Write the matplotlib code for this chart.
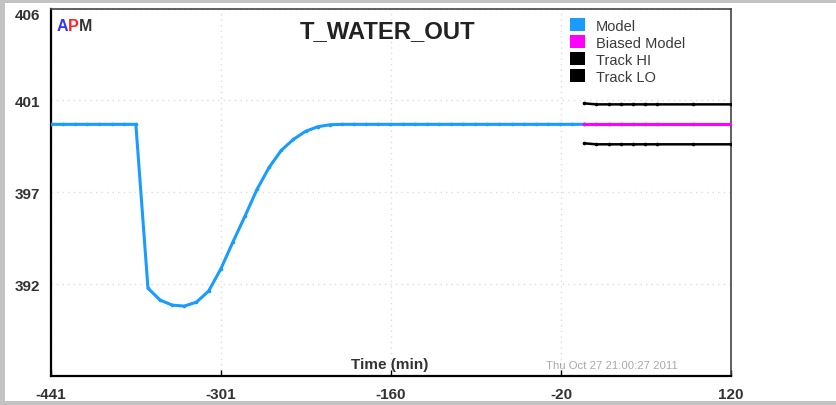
import matplotlib as mpl
mpl.use('Agg')
from matplotlib import pyplot as plt
from matplotlib.patches import Patch, Rectangle

plt.rcParams['font.family'] = ['Liberation Sans', 'DejaVu Sans']

# past horizon (min) and model response
t_hist = [-441, -431, -421, -411, -401, -391, -381, -371,
          -361, -351, -341, -331, -321, -311, -301, -291, -281,
          -271, -261, -251, -241, -231, -221, -211, -201,
          -191, -181, -171, -161, -151, -141, -131, -121, -111,
          -101, -91, -81, -71, -61, -51, -41, -31, -21, -11, -1]
model = [400.2, 400.2, 400.2, 400.2, 400.2, 400.2, 400.2, 400.2,
         392.0, 391.4, 391.15, 391.1, 391.3, 391.85, 392.95, 394.3, 395.6,
         396.95, 398.05, 398.9, 399.45, 399.85, 400.08, 400.18, 400.2,
         400.2, 400.2, 400.2, 400.2, 400.2, 400.2, 400.2, 400.2, 400.2,
         400.2, 400.2, 400.2, 400.2, 400.2, 400.2, 400.2, 400.2, 400.2, 400.2, 400.2]

# forecast horizon
t_pred = [-1, 9, 19, 29, 39, 49, 59, 89, 120]
biased = [400.2, 400.2, 400.2, 400.2, 400.2, 400.2, 400.2, 400.2, 400.2]
track_hi = [401.25, 401.2, 401.2, 401.2, 401.2, 401.2, 401.2, 401.2, 401.2]
track_lo = [399.25, 399.2, 399.2, 399.2, 399.2, 399.2, 399.2, 399.2, 399.2]

x_ticks = [-441, -300.75, -160.5, -20.25, 120]
x_tick_labels = ['-441', '-301', '-160', '-20', '120']
y_ticks = [406, 401.4, 396.8, 392.2, 387.6]
y_tick_labels = ['406', '401', '397', '392', '']

W, H = 837, 406
fig = plt.figure(figsize=(W / 100, H / 100), dpi=100)
fig.patch.set_facecolor('#c3c3c3')
fig.patches.append(Rectangle((5 / W, 4 / H), 1 - 5 / W, (402 - 4) / H,
                             transform=fig.transFigure, facecolor='white',
                             edgecolor='none', zorder=-10))

ax = fig.add_axes([51 / W, 29 / H, 680 / W, 367.5 / H])
ax.set_zorder(1)
ax.set_facecolor('white')

blue = '#1a9cff'
ax.plot(t_hist, model, color=blue, lw=2.2, marker='o', ms=1.6, zorder=3)
ax.plot(t_pred, track_hi, color='black', lw=1.8, marker='o', ms=1.6, zorder=3)
ax.plot(t_pred, track_lo, color='black', lw=1.8, marker='o', ms=1.6, zorder=3)
ax.plot(t_pred, biased, color='#ff00ff', lw=2.2, marker='o', ms=1.6, zorder=4)

ax.set_xlim(x_ticks[0], x_ticks[-1])
ax.set_ylim(y_ticks[-1], y_ticks[0])
ax.set_xticks(x_ticks)
ax.set_xticklabels(x_tick_labels)
ax.set_yticks(y_ticks)
ax.set_yticklabels(y_tick_labels)
ax.tick_params(axis='x', direction='in', length=4, width=1, pad=8,
               labelsize=11, labelcolor='#333333')
ax.tick_params(axis='y', length=0, pad=8, labelsize=11, labelcolor='#333333')
for lab in ax.get_xticklabels() + ax.get_yticklabels():
    lab.set_fontweight('bold')
ax.yaxis.get_major_ticks()[0].label1.set_va('top')

ax.grid(True, color='#dcdcdc', lw=1, ls=(0, (1, 3)))
for s in ['left', 'bottom']:
    ax.spines[s].set_linewidth(1.6)
    ax.spines[s].set_color('black')
for s in ['top', 'right']:
    ax.spines[s].set_linewidth(1.2)
    ax.spines[s].set_color('#444444')

ax.set_title('T_WATER_OUT', fontsize=17.2, fontweight='bold', color='#222222',
             x=(388 - 51) / 680, y=1 - 37 / 367.5, va='baseline')

fig.text(57 / W, 1 - 31 / H, 'A', color='#3333ff', fontsize=11.5,
         fontweight='bold', va='baseline')
fig.text(68 / W, 1 - 31 / H, 'P', color='#ff2222', fontsize=11.5,
         fontweight='bold', va='baseline')
fig.text(78.5 / W, 1 - 31 / H, 'M', color='#333333', fontsize=11.5,
         fontweight='bold', va='baseline')

fig.text(390 / W, 1 - 365 / H, 'Time (min)', fontsize=11, fontweight='bold',
         color='#333333', ha='center', va='center', zorder=5)
fig.text(612 / W, 1 - 366.5 / H, 'Thu Oct 27 21:00:27 2011', fontsize=8.2,
         color='#a8a8a8', ha='center', va='center', zorder=5)

handles = [Patch(facecolor=blue, edgecolor='none'),
           Patch(facecolor='#ff00ff', edgecolor='none'),
           Patch(facecolor='black', edgecolor='none'),
           Patch(facecolor='black', edgecolor='none')]
names = ['Model', 'Biased Model', 'Track HI', 'Track LO']
leg = ax.legend(handles, names, loc='upper left',
                bbox_to_anchor=(570 / W, 1 - 19 / H),
                bbox_transform=fig.transFigure, frameon=False, fontsize=10.5,
                handlelength=1.03, handleheight=1.03, handletextpad=0.75,
                labelspacing=0.16, borderpad=0, borderaxespad=0)
for t in leg.get_texts():
    t.set_color('#3a3a3a')

fig.savefig('out.png', dpi=100)
